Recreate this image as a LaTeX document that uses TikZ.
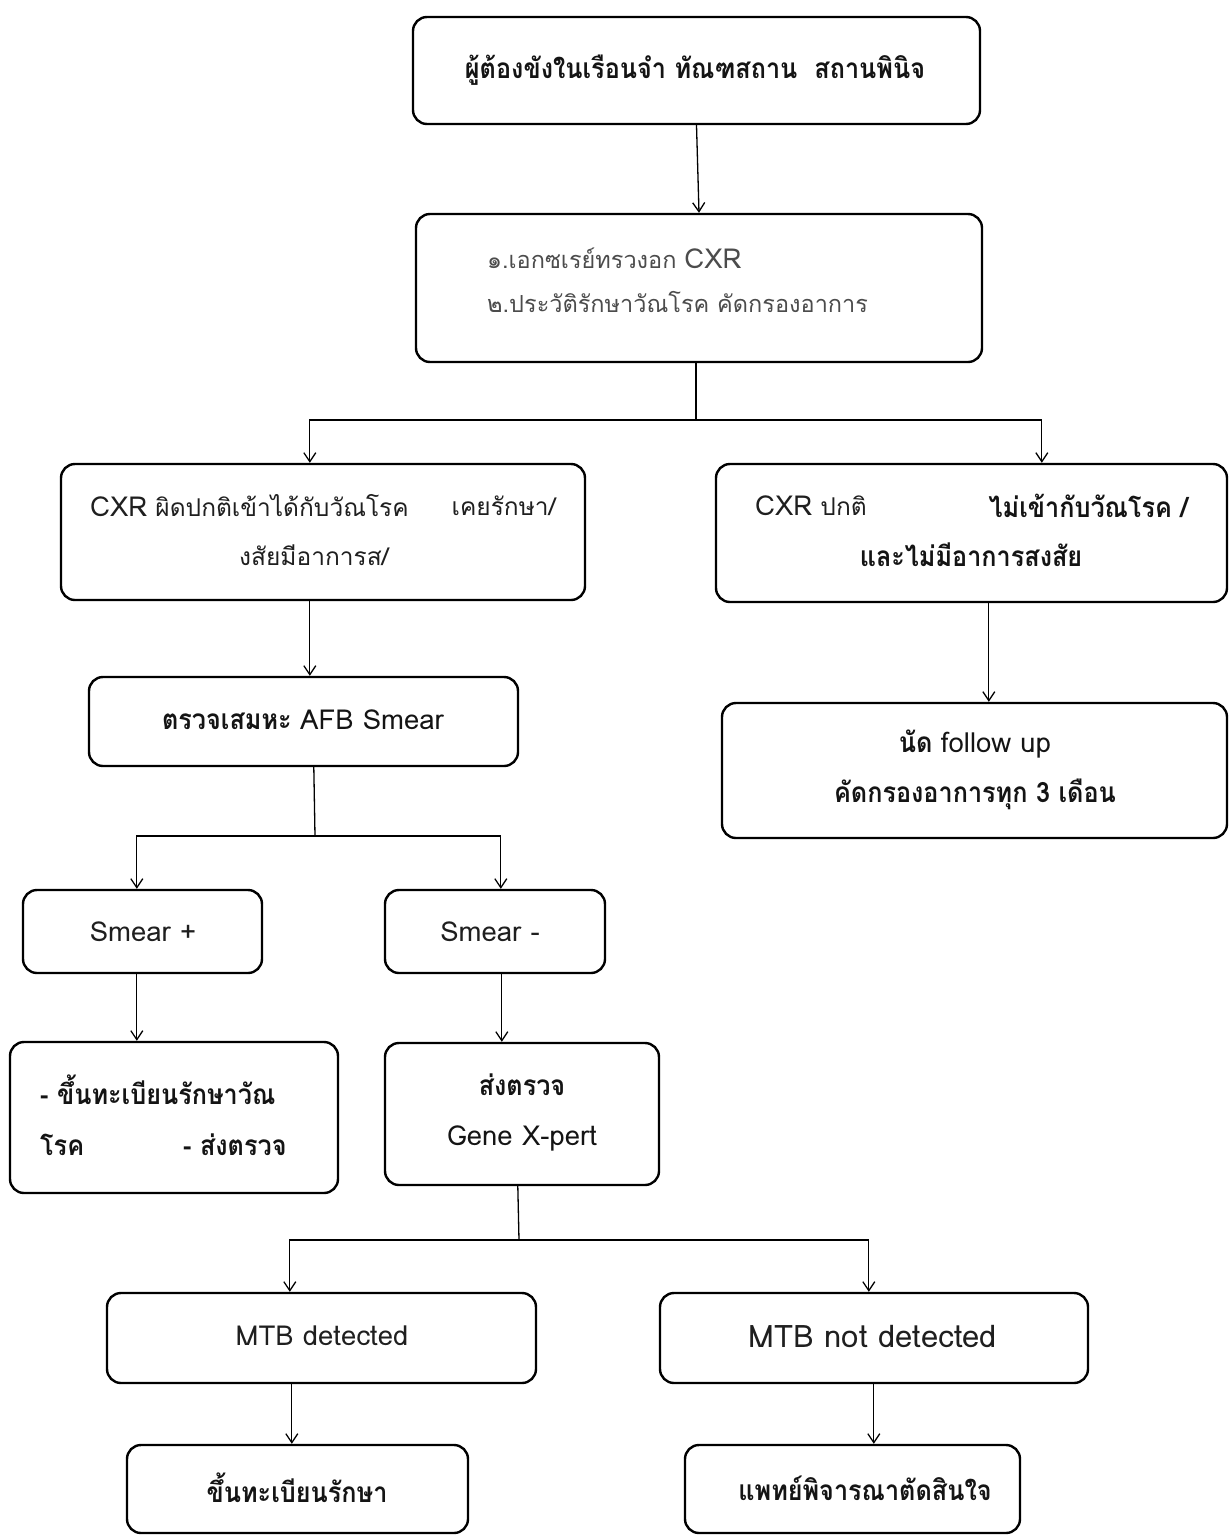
\documentclass[tikz,border=0pt]{standalone}
\usepackage{fontspec}
\newfontfamily\thaifont[Script=Thai, BoldFeatures={FakeStretch=0.9}]{Loma}
\usetikzlibrary{arrows.meta}
% Latin words are set a little larger than the Thai around them
\newcommand{\lat}[1]{{\fontsize{27.5}{50}\selectfont #1}}
\begin{document}
\begin{tikzpicture}[x=1pt,y=-1pt,
  box/.style={draw, line width=2.4pt, rounded corners=14pt, inner sep=0pt},
  conn/.style={line width=1.3pt},
  arr/.style={conn, -{Straight Barb[length=9pt,width=12pt,line width=1.3pt]}},
  txt/.style={font=\thaifont\fontsize{24.5}{50}\selectfont, inner sep=0pt, text=black!88},
  btxt/.style={txt, font=\thaifont\bfseries\fontsize{28}{50}\selectfont, text=black!92},
  ltxt/.style={txt, font=\thaifont\fontsize{23.5}{44}\selectfont, text=black!70}]
\useasboundingbox[fill=white] (0,0) rectangle (1229,1537);

% boxes
\node[box, minimum width=567, minimum height=107] (inmate)  at (696.5,70.5) {};
\node[box, minimum width=566, minimum height=148] (screen)  at (699,288) {};
\node[box, minimum width=524, minimum height=136] (cxrabn)  at (323,532) {};
\node[box, minimum width=511, minimum height=138] (cxrnorm) at (971.5,533) {};
\node[box, minimum width=429, minimum height=89]  (afb)     at (303.5,721.5) {};
\node[box, minimum width=505, minimum height=135] (follow)  at (974.5,770.5) {};
\node[box, minimum width=239, minimum height=83]  (smpos)   at (142.5,931.5) {};
\node[box, minimum width=220, minimum height=83]  (smneg)   at (495,931.5) {};
\node[box, minimum width=328, minimum height=151] (reg1)    at (174,1117.5) {};
\node[box, minimum width=274, minimum height=142] (gene)    at (522,1114) {};
\node[box, minimum width=429, minimum height=90]  (mtbd)    at (321.5,1338) {};
\node[box, minimum width=428, minimum height=90]  (mtbn)    at (874,1338) {};
\node[box, minimum width=341, minimum height=88]  (treat)   at (297.5,1489) {};
\node[box, minimum width=335, minimum height=88]  (doctor)  at (852.5,1489) {};

% texts
\node[btxt] at (695,70) {ผู้ต้องขังในเรือนจำ ทัณฑสถาน\ \ สถานพินิจ};
\node[ltxt, anchor=west, align=left] at (487,280) {๑.เอกซเรย์ทรวงอก \lat{CXR}\\๒.ประวัติรักษาวัณโรค คัดกรองอาการ};
\node[txt, anchor=west] at (90,506) {\lat{CXR} ผิดปกติเข้าได้กับวัณโรค};
\node[txt, anchor=east] at (556,506) {เคยรักษา/};
\node[txt] at (314,555) {งสัยมีอาการส/};
\node[txt, anchor=west] at (755,506) {\lat{CXR} ปกติ};
\node[btxt, anchor=east] at (1188,506) {ไม่เข้ากับวัณโรค /};
\node[btxt] at (971,555) {และไม่มีอาการสงสัย};
\node[btxt] at (303,720) {ตรวจเสมหะ \lat{\mdseries AFB Smear}};
\node[btxt, align=center] at (975,770) {นัด \lat{\mdseries follow up}\\คัดกรองอาการทุก 3 เดือน};
\node[txt] at (143,932) {\lat{Smear +}};
\node[txt] at (490,932) {\lat{Smear -}};
\node[btxt, anchor=west] at (40,1090) {- ขึ้นทะเบียนรักษาวัณ};
\node[btxt, anchor=west] at (40,1145) {โรค};
\node[btxt, anchor=west] at (183,1145) {- ส่งตรวจ};
\node[btxt, align=center] at (522,1112) {ส่งตรวจ\\\lat{\mdseries Gene X-pert}};
\node[txt] at (322,1336) {\lat{MTB detected}};
\node[txt] at (873,1336) {{\fontsize{31}{50}\selectfont MTB not detected}};
\node[btxt] at (297,1488) {ขึ้นทะเบียนรักษา};
\node[btxt] at (865,1488) {แพทย์พิจารณาตัดสินใจ};

% connectors
\draw[arr] (inmate.south) -- (screen.north);

\coordinate (jn1) at (696,420);
\draw[conn] ([xshift=-3pt]screen.south) -- (jn1);
\draw[arr] (jn1) -| ([xshift=250pt]cxrabn.north west);
\draw[arr] (jn1) -| ([xshift=327pt]cxrnorm.north west);

\draw[arr] ([xshift=250pt]cxrabn.south west) -- ([xshift=250pt]cxrabn.south west |- afb.north);
\draw[arr] ([xshift=274pt]cxrnorm.south west) -- ([xshift=274pt]cxrnorm.south west |- follow.north);

\coordinate (jn2) at (315,836);
\draw[conn] ([xshift=226pt]afb.south west) -- (jn2);
\draw[arr] (jn2) -| ([xshift=115pt]smpos.north west);
\draw[arr] (jn2) -| ([xshift=117pt]smneg.north west);

\draw[arr] ([xshift=115pt]smpos.south west) -- ([xshift=115pt]smpos.south west |- reg1.north);
\draw[arr] ([xshift=118pt]smneg.south west) -- ([xshift=118pt]smneg.south west |- gene.north);

\coordinate (jn3) at (519,1240);
\draw[conn] ([xshift=134pt]gene.south west) -- (jn3);
\draw[arr] (jn3) -| ([xshift=184pt]mtbd.north west);
\draw[arr] (jn3) -| ([xshift=210pt]mtbn.north west);

\draw[arr] ([xshift=186pt]mtbd.south west) -- ([xshift=186pt]mtbd.south west |- treat.north);
\draw[arr] ([xshift=215pt]mtbn.south west) -- ([xshift=215pt]mtbn.south west |- doctor.north);
\end{tikzpicture}
\end{document}
